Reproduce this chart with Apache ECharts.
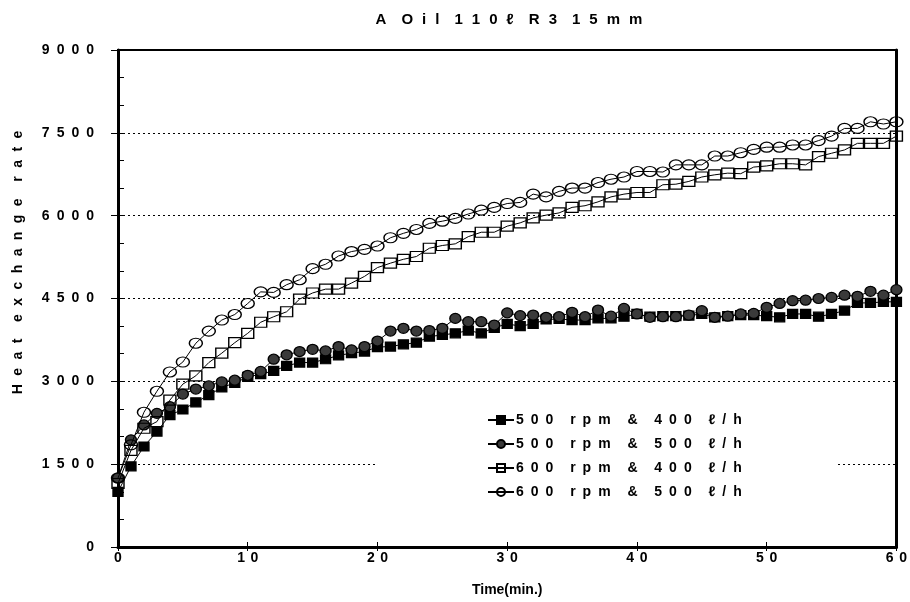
<!DOCTYPE html>
<html><head><meta charset="utf-8">
<script src="https://cdn.jsdelivr.net/npm/echarts@6.0.0/dist/echarts.min.js"></script>
<style>html,body{margin:0;padding:0;background:#fff}#c{width:910px;height:602px}</style>
</head><body><div id="c"></div>
<script>
const titleText = 'A Oil 110ℓ R3 15mm';
const xAxisName = 'Time(min.)';
const yAxisName = 'Heat exchange rate';
const seriesNames = ['500 rpm & 400 ℓ/h', '500 rpm & 500 ℓ/h', '600 rpm & 400 ℓ/h', '600 rpm & 500 ℓ/h'];
const times = [0,1,2,3,4,5,6,7,8,9,10,11,12,13,14,15,16,17,18,19,20,21,22,23,24,25,26,27,28,29,30,31,32,33,34,35,36,37,38,39,40,41,42,43,44,45,46,47,48,49,50,51,52,53,54,55,56,57,58,59,60];
const rpm500_400 = [1000,1460,1820,2090,2390,2490,2620,2750,2890,2970,3080,3130,3190,3280,3340,3340,3400,3470,3510,3540,3620,3630,3670,3700,3810,3840,3870,3920,3870,3970,4040,4000,4040,4120,4130,4110,4110,4140,4140,4170,4220,4170,4180,4180,4190,4220,4160,4180,4200,4200,4180,4160,4220,4220,4170,4220,4280,4420,4420,4440,4440];
const rpm500_500 = [1250,1940,2210,2420,2540,2770,2860,2920,2990,3020,3110,3180,3400,3480,3540,3580,3550,3630,3570,3630,3730,3910,3960,3910,3920,3960,4140,4080,4080,4020,4240,4190,4200,4160,4170,4250,4170,4290,4180,4320,4220,4160,4170,4170,4200,4280,4160,4180,4220,4230,4340,4410,4460,4470,4500,4520,4560,4540,4630,4560,4660];
const rpm600_400 = [1150,1750,2150,2270,2660,2950,3100,3340,3510,3700,3870,4070,4170,4260,4490,4600,4670,4670,4780,4900,5060,5140,5210,5260,5410,5460,5490,5620,5700,5700,5810,5870,5960,6010,6050,6150,6180,6250,6340,6390,6420,6420,6560,6570,6620,6700,6740,6770,6760,6880,6900,6940,6940,6920,7070,7130,7190,7310,7310,7310,7440];
const rpm600_500 = [1250,1850,2440,2820,3170,3350,3690,3910,4110,4210,4410,4620,4610,4750,4840,5040,5120,5270,5350,5390,5450,5600,5680,5750,5860,5900,5950,6030,6100,6150,6220,6240,6390,6340,6440,6500,6500,6600,6660,6700,6800,6800,6790,6920,6920,6920,7080,7080,7140,7200,7240,7240,7280,7280,7360,7440,7580,7580,7700,7660,7700];
const xTicks = [0,10,20,30,40,50,60];
const yTicks = [0,1500,3000,4500,6000,7500,9000];

const EN = '\u2002', THIN = '\u2009';
function spaced(s, inner, word) {
  return s.split(' ').map(w => w.split('').join(inner)).join(word);
}
const FONT = "'Liberation Sans', Arial, sans-serif";

const allSeries = [rpm500_400, rpm500_500, rpm600_400, rpm600_500];
const symbols = ['rect', 'circle', 'rect', 'circle'];
const sizes = [[10, 9], [11, 10], [12, 10], [13, 10]];
const fills = ['#000', '#3a3a3a', 'rgba(0,0,0,0)', 'rgba(0,0,0,0)'];

const chart = echarts.init(document.getElementById('c'));
chart.setOption({
  animation: false,
  backgroundColor: '#fff',
  title: {
    text: spaced(titleText, THIN + THIN + THIN, EN + EN),
    left: 504, top: 7, textAlign: 'center',
    textStyle: { fontFamily: FONT, fontWeight: 'bold', fontSize: 15, color: '#000' }
  },
  grid: { left: 118, right: 11, top: 50, bottom: 55, show: true, borderColor: '#000', borderWidth: 2, backgroundColor: 'transparent' },
  legend: {
    orient: 'vertical', left: 375, top: 401,
    padding: [12, 95, 14, 112],
    backgroundColor: '#fff',
    itemWidth: 26, itemHeight: 10, itemGap: 10,
    data: seriesNames,
    formatter: n => spaced(n, EN, EN + EN + THIN),
    textStyle: { fontFamily: FONT, fontWeight: 'bold', fontSize: 14, color: '#000', padding: [0, 0, 0, -3] }
  },
  xAxis: [{
    type: 'value', min: 0, max: 60, interval: 10,
    name: xAxisName, nameLocation: 'middle', nameGap: 36,
    nameTextStyle: { fontFamily: FONT, fontWeight: 'bold', fontSize: 14, color: '#000' },
    axisLine: { lineStyle: { color: '#000', width: 3 } },
    axisTick: { show: true, length: 4, lineStyle: { color: '#000', width: 1 } },
    axisLabel: { margin: 4, color: '#000', fontFamily: FONT, fontWeight: 'bold', fontSize: 14,
      formatter: v => xTicks.includes(v) ? spaced(String(v), THIN + THIN, EN) : '' },
    splitLine: { show: false }
  }, {
    type: 'value', min: 0, max: 60, interval: 10, position: 'bottom',
    axisLine: { show: false }, axisLabel: { show: false }, splitLine: { show: false },
    axisTick: { show: true, inside: true, length: 5, lineStyle: { color: '#000', width: 1 } }
  }],
  yAxis: [{
    type: 'value', min: 0, max: 9000, interval: 1500,
    name: spaced(yAxisName, THIN + THIN + THIN, EN + EN + THIN), nameLocation: 'middle', nameGap: 93, nameRotate: 90,
    nameTextStyle: { fontFamily: FONT, fontWeight: 'bold', fontSize: 14, color: '#000', padding: [0, 0, 0, 72] },
    axisLine: { lineStyle: { color: '#000', width: 3 } },
    axisTick: { show: true, length: 7, lineStyle: { color: '#000', width: 1 } },
    axisLabel: { margin: 24, color: '#000', fontFamily: FONT, fontWeight: 'bold', fontSize: 14,
      formatter: v => yTicks.includes(v) ? spaced(String(v), EN, EN) : '' },
    splitLine: { show: true, lineStyle: { color: '#000', width: 1, type: [2, 3] } }
  }, {
    type: 'value', min: 0, max: 9000, interval: 500, position: 'left',
    axisLine: { show: false }, axisLabel: { show: false }, splitLine: { show: false },
    axisTick: { show: true, inside: true, length: 6, lineStyle: { color: '#000', width: 1 } }
  }, {
    type: 'value', min: 0, max: 9000, interval: 1500, position: 'right',
    axisLine: { show: true, lineStyle: { color: '#000', width: 3 } },
    axisTick: { show: false }, axisLabel: { show: false }, splitLine: { show: false }
  }],
  series: allSeries.map((vals, i) => ({
    name: seriesNames[i],
    type: 'line',
    xAxisIndex: 0, yAxisIndex: 0,
    data: times.map((t, j) => [t, vals[j]]),
    symbol: symbols[i],
    symbolSize: sizes[i],
    showAllSymbol: true,
    lineStyle: { color: '#000', width: 1 },
    itemStyle: { color: fills[i], borderColor: '#000', borderWidth: 1.3 },
    emphasis: { disabled: true },
    z: 3 + i
  }))
});
</script>
</body></html>
